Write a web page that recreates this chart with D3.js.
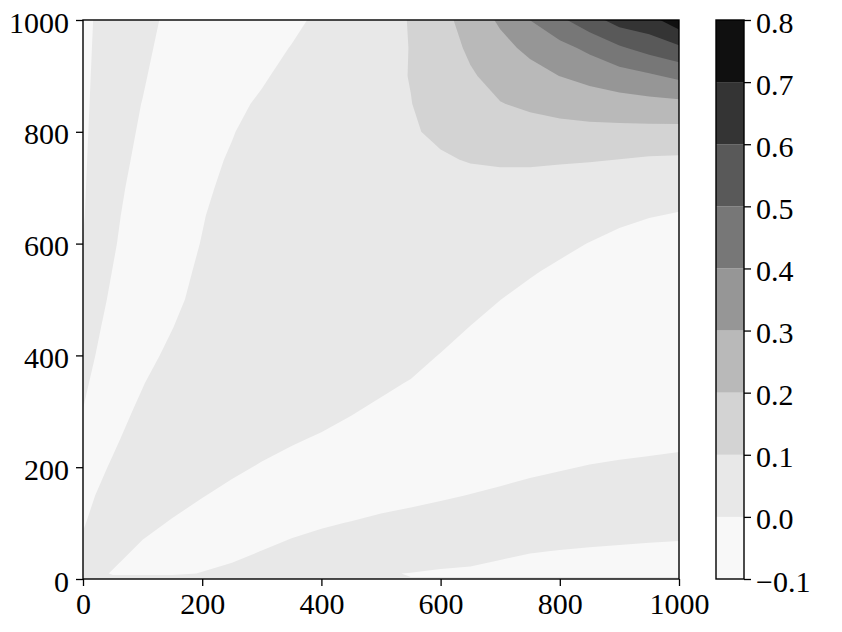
<!DOCTYPE html>
<html><head><meta charset="utf-8">
<script src="https://cdn.jsdelivr.net/npm/d3@7"></script>
<style>
html,body{margin:0;padding:0;background:#fff;}
svg{display:block;}
text{font-family:"Liberation Serif","DejaVu Serif",serif;fill:#000;}
</style></head><body>
<svg id="chart" width="842" height="632"></svg>
<script>
// grid sample positions
const xCols = [0,50,100,150,200,250,300,350,400,450,500,550,600,650,700,750,800,850,900,950,1000];
const yRows = [1000,950,900,850,800,750,700,650,600,550,500,450,400,350,300,250,200,150,100,50,10,0];
// field values, one array per row (y)
const z1000 = [-0.0102,0.0198,0.0168,-0.0132,-0.0432,-0.05,-0.0456,-0.0156,0.0143,0.044,0.074,0.104,0.17,0.239,0.315,0.401,0.48,0.56,0.64,0.665,0.76];
const z950 = [-0.009,0.021,0.0108,-0.0192,-0.049,-0.05,-0.0225,0.0025,0.0274,0.052,0.077,0.102,0.159,0.214,0.27,0.323,0.37,0.422,0.487,0.537,0.583];
const z900 = [-0.0077,0.022,0.0048,-0.025,-0.05,-0.036,-0.006,0.0155,0.037,0.058,0.0795,0.1025,0.146,0.191,0.229,0.265,0.301,0.329,0.357,0.385,0.422];
const z850 = [-0.0066,0.0234,-0.0012,-0.031,-0.04,-0.0115,0.007,0.0255,0.044,0.0625,0.081,0.0985,0.13,0.164,0.197,0.215,0.234,0.249,0.261,0.27,0.276];
const z800 = [-0.0051,0.0234,-0.0068,-0.037,-0.018,-0.0019,0.014,0.03,0.046,0.062,0.078,0.0935,0.112,0.133,0.155,0.165,0.1695,0.173,0.172,0.172,0.17];
const z750 = [-0.0029,0.018,-0.012,-0.03,-0.0102,0.0038,0.0178,0.03,0.042,0.054,0.066,0.078,0.093,0.104,0.111,0.1126,0.1085,0.105,0.099,0.09,0.0867];
const z700 = [-0.0014,0.0126,-0.0174,-0.03,-0.0062,0.0088,0.024,0.035,0.045,0.054,0.062,0.07,0.078,0.074,0.0705,0.065,0.058,0.0485,0.043,0.038,0.03];
const z650 = [-0.0005,0.008,-0.022,-0.025,-0.0018,0.0132,0.027,0.037,0.046,0.053,0.058,0.062,0.0687,0.059,0.053,0.045,0.035,0.0235,0.0132,0.0028,-0.0049];
const z600 = [0.0002,0.0042,-0.026,-0.0138,0.0012,0.016,0.03,0.04,0.047,0.053,0.058,0.056,0.0547,0.044,0.0355,0.025,0.0127,-0.0015,-0.0168,-0.032,-0.03];
const z550 = [0.029,-0.0009,-0.025,-0.01,0.005,0.02,0.032,0.04,0.046,0.05,0.052,0.048,0.0407,0.029,0.018,0.005,-0.0098,-0.0265,-0.035,-0.04,-0.04];
const z500 = [0.024,-0.006,-0.021,-0.0063,0.0087,0.024,0.032,0.038,0.044,0.046,0.042,0.0355,0.0267,0.014,0.00046,-0.015,-0.032,-0.04,-0.042,-0.045,-0.045];
const z450 = [0.018,-0.0118,-0.0155,-0.0005,0.0145,0.025,0.03,0.034,0.04,0.038,0.031,0.023,0.0127,-0.0009,-0.017,-0.03,-0.04,-0.043,-0.045,-0.045,-0.045];
const z400 = [0.0124,-0.0176,-0.0086,0.0064,0.021,0.025,0.026,0.028,0.032,0.027,0.019,0.0105,-0.0013,-0.016,-0.03,-0.038,-0.042,-0.042,-0.042,-0.042,-0.042];
const z350 = [0.0059,-0.024,-0.0011,0.0139,0.024,0.022,0.022,0.024,0.022,0.0145,0.00625,-0.002,-0.0153,-0.028,-0.033,-0.035,-0.035,-0.035,-0.035,-0.035,-0.035];
const z300 = [-0.0005,-0.0098,0.0052,0.02,0.024,0.022,0.018,0.0155,0.0094,0.002,-0.00625,-0.0145,-0.025,-0.03,-0.033,-0.033,-0.032,-0.0285,-0.026,-0.024,-0.022];
const z250 = [-0.01,-0.0037,0.0113,0.022,0.024,0.0178,0.01,0.003,-0.0032,-0.0105,-0.019,-0.022,-0.028,-0.0294,-0.025,-0.0208,-0.0171,-0.0135,-0.011,-0.009,-0.0069];
const z200 = [-0.0123,0.0027,0.0177,0.022,0.0138,0.00525,-0.0025,-0.0095,-0.0157,-0.022,-0.025,-0.0216,-0.018,-0.0144,-0.0102,-0.0058,-0.0022,0.0015,0.004,0.006,0.0081];
const z150 = [-0.0062,0.0089,0.02,0.01025,0.00125,-0.00725,-0.015,-0.02,-0.018,-0.014,-0.0099,-0.0066,-0.0032,0.0006,0.0048,0.0092,0.0128,0.0165,0.019,0.021,0.0231];
const z100 = [-0.0015,0.0135,0.0075,-0.00225,-0.0113,-0.018,-0.015,-0.0081,-0.003,0.00105,0.0051,0.0084,0.0119,0.0156,0.0198,0.0163,0.0145,0.0129,0.0117,0.0105,0.0096];
const z50 = [0.004,0.00825,-0.005,-0.0108,-0.0111,-0.0063,0.0003,0.0069,0.012,0.014,0.015,0.0116,0.0096,0.0083,0.0048,0.00126,-0.00054,-0.0021,-0.0033,-0.0045,-0.0054];
const z10 = [0.011,-0.00175,-0.00075,-0.0036,0.0009,0.0057,0.012,0.006,0.008,0.006,0.0009,-0.00042,-0.0024,-0.0037,-0.0072,-0.0107,-0.0125,-0.0141,-0.0153,-0.0165,-0.0174];
const z0 = [0.012,0.004,0.00175,0.0084,0.0039,0.0087,0.013,0.004,0.005,0.004,0.002,0.00023,0.0013,0.002,0.0039,0.0058,0.0067,0.0076,0.0082,0.0089,0.0094];

const levels = [-0.1,0,0.1,0.2,0.3,0.4,0.5,0.6,0.7,0.8];
const bandColors = ['#f8f8f8','#e8e8e8','#d3d3d3','#b9b9b9','#969696','#777777','#595959','#343434','#101010'];
const xTicks = [0,200,400,600,800,1000];
const yTicks = [0,200,400,600,800,1000];
const cbTicks = [-0.1,0,0.1,0.2,0.3,0.4,0.5,0.6,0.7,0.8];
const cbLabels = ['\u22120.1','0.0','0.1','0.2','0.3','0.4','0.5','0.6','0.7','0.8'];

const grid = [z1000,z950,z900,z850,z800,z750,z700,z650,z600,z550,z500,z450,z400,z350,z300,z250,z200,z150,z100,z50,z10,z0];

const L = 83, R = 679, T = 20, B = 579;
const CBL = 716, CBR = 744;
const FS = 30;

const svg = d3.select('#chart');
const x = d3.scaleLinear([0,1000],[L,R]);
const y = d3.scaleLinear([0,1000],[B,T]);

const nx = xCols.length, ny = yRows.length;
const values = grid.flat();
const gx = d3.scaleLinear(xCols.map((d,i)=>i+0.5), xCols);
const gy = d3.scaleLinear(yRows.map((d,i)=>i+0.5), yRows);

const contours = d3.contours().size([nx, ny]).thresholds(levels.slice(0,-1))(values);
const proj = d3.geoTransform({point: function(px, py){ this.stream.point(x(gx(px)), y(gy(py))); }});
const path = d3.geoPath(proj);

svg.append('defs').append('clipPath').attr('id','plotclip')
  .append('rect').attr('x',L).attr('y',T).attr('width',R-L).attr('height',B-T);

const gPlot = svg.append('g').attr('clip-path','url(#plotclip)');
gPlot.append('rect').attr('x',L).attr('y',T).attr('width',R-L).attr('height',B-T).attr('fill',bandColors[0]);
gPlot.selectAll('path.band').data(contours).join('path')
  .attr('class','band')
  .attr('d', path)
  .attr('fill', (d,i)=>bandColors[i])
  .attr('fill-rule','evenodd')
  .attr('stroke','none');

// axes
const xAxis = d3.axisBottom(x).tickValues(xTicks).tickSize(7).tickPadding(7).tickFormat(d3.format('d'));
const gx_ = svg.append('g').attr('transform',`translate(0,${B})`).call(xAxis);
const yAxis = d3.axisLeft(y).tickValues(yTicks).tickSize(7).tickPadding(7).tickFormat(d3.format('d'));
const gy_ = svg.append('g').attr('transform',`translate(${L},0)`).call(yAxis);
[gx_, gy_].forEach(g=>{
  g.select('.domain').remove();
  g.selectAll('.tick line').attr('stroke','#000').attr('stroke-width',1.3);
  g.selectAll('.tick text').attr('font-size',FS).attr('fill','#000')
    .style('font-family','"Liberation Serif","DejaVu Serif",serif');
});
gx_.selectAll('.tick text').attr('dy','0.7em');
gy_.selectAll('.tick text').attr('dy','0.4em');

svg.append('rect').attr('x',L).attr('y',T).attr('width',R-L).attr('height',B-T)
  .attr('fill','none').attr('stroke','#000').attr('stroke-width',1.4);

// colorbar
const yC = d3.scaleLinear([levels[0], levels[levels.length-1]], [B, T]);
const gCb = svg.append('g');
gCb.selectAll('rect.cb').data(bandColors).join('rect')
  .attr('class','cb')
  .attr('x',CBL).attr('width',CBR-CBL)
  .attr('y',(d,i)=>yC(levels[i+1]))
  .attr('height',(d,i)=>yC(levels[i])-yC(levels[i+1]))
  .attr('fill',d=>d);
gCb.append('rect').attr('x',CBL).attr('y',T).attr('width',CBR-CBL).attr('height',B-T)
  .attr('fill','none').attr('stroke','#000').attr('stroke-width',1.4);
const cAxis = d3.axisRight(yC).tickValues(cbTicks).tickSize(7).tickPadding(5)
  .tickFormat((d,i)=>cbLabels[i]);
const gc_ = svg.append('g').attr('transform',`translate(${CBR},0)`).call(cAxis);
gc_.select('.domain').remove();
gc_.selectAll('.tick line').attr('stroke','#000').attr('stroke-width',1.3);
gc_.selectAll('.tick text').attr('font-size',FS).attr('fill','#000').attr('dy','0.4em')
  .style('font-family','"Liberation Serif","DejaVu Serif",serif');
</script>
</body></html>
